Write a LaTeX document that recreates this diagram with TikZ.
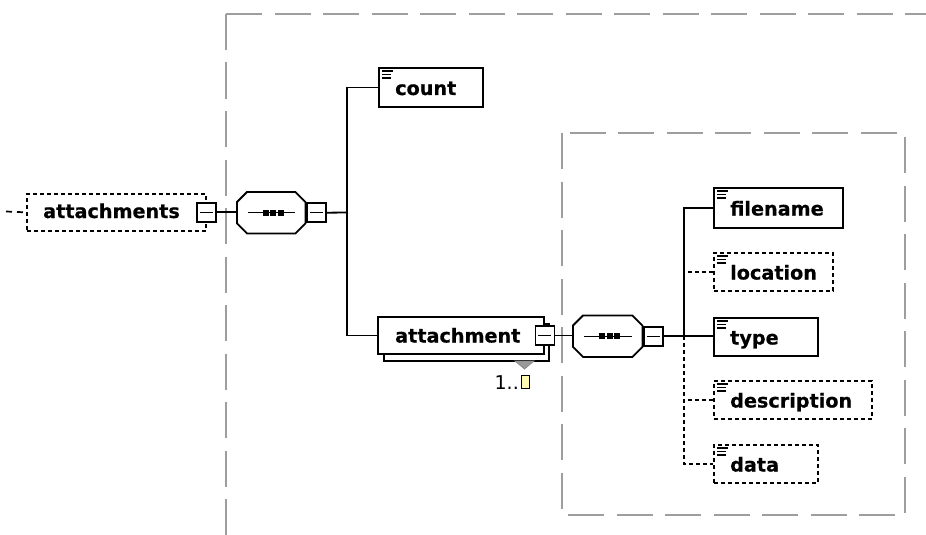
\documentclass[tikz,border=0pt]{standalone}
\usepackage{fontspec}
\setmainfont{DejaVu Sans}
\newfontfamily\heavyfont{DejaVu Sans Bold}[FakeBold=0.5]
\begin{document}
\begin{tikzpicture}[x=1pt,y=-1pt,
  box/.style={draw=black, line width=1.9pt, fill=white, rectangle, inner sep=0pt, anchor=north west},
  optbox/.style={box, line width=1.7pt, dash pattern=on 4pt off 3pt},
  minusbox/.style={draw=black, line width=1.6pt, fill=white, rectangle, inner sep=0pt, minimum size=19pt, anchor=center},
  seqbox/.style={inner sep=0pt, anchor=north west},
  lbl/.style={anchor=base west, inner sep=0pt, font=\fontsize{19.2}{23}\selectfont\heavyfont},
  small/.style={anchor=base west, inner sep=0pt, font=\fontsize{19}{23}\selectfont},
  conn/.style={line width=1.8pt},
  optconn/.style={line width=1.7pt, dash pattern=on 4pt off 3pt},
  gbox/.style={draw=black!38, line width=2.2pt, dash pattern=on 36pt off 12.5pt}
]
\useasboundingbox (0,0) rectangle (926,535);

% group borders
\draw[gbox] (226,14) -- (926,14);
\draw[gbox] (226,14) -- (226,535);
\draw[gbox] (562,133) rectangle (905,515);

\newcommand\xsdicon[1]{%
  \draw[line width=1.3pt] ([xshift=4pt,yshift=-4pt]#1.north west) -- ++(11,0)
    ([xshift=4pt,yshift=-7.5pt]#1.north west) -- ++(9,0)
    ([xshift=4pt,yshift=-11pt]#1.north west) -- ++(9,0);}
\newcommand\minussign{}
\renewcommand\minussign[1]{%
  \draw[line width=1.4pt] ([xshift=-6.5pt]#1.center) -- ([xshift=6.5pt]#1.center);}
\newcommand\seqshape[1]{%
  \draw[conn, fill=white] ([xshift=10pt]#1.north west) -- ([xshift=-10pt]#1.north east)
    -- ([yshift=-10pt]#1.north east) -- ([yshift=10pt]#1.south east)
    -- ([xshift=-10pt]#1.south east) -- ([xshift=10pt]#1.south west)
    -- ([yshift=10pt]#1.south west) -- ([yshift=-10pt]#1.north west) -- cycle;
  \draw[line width=1.4pt] ([xshift=11pt]#1.west) -- ([xshift=-10pt]#1.east);
  \foreach \d in {-5.5,2,9.5}{\fill ([xshift=\d pt]#1.center) +(-2.8,-2.8) rectangle +(2.8,2.8);}}

% attachments (root)
\node[optbox, minimum width=179pt, minimum height=37pt] (attachments) at (26,193) {};
\node[lbl] (attachmentsT) at (43,218) {attachments};
\coordinate (inL) at (6,211.5);
\draw[line width=1.7pt, dash pattern=on 6pt off 5pt] (inL) -- (attachments.west);
\node[minusbox] (attachmentsM) at (attachments.east) {};
\minussign{attachmentsM}

% first sequence
\node[seqbox, minimum width=68pt, minimum height=41pt] (seqA) at (237,192) {};
\draw[conn] (attachmentsM.east) -- (attachmentsM.east -| seqA.west);
\seqshape{seqA}
\node[minusbox, anchor=west] (seqAM) at ([xshift=1pt]seqA.east) {};
\minussign{seqAM}
\coordinate (busA) at (347,212.5);
\draw[conn] (seqAM.east) -- (busA);

% count
\node[box, minimum width=104pt, minimum height=39pt] (count) at (378,67) {};
\xsdicon{count}
\node[lbl] (countT) at (395,95) {count};

% attachment (repeating)
\node[box, minimum width=165pt, minimum height=37pt] (attachmentS) at (383,323) {};
\node[box, minimum width=166pt, minimum height=37pt] (attachment) at (377,316) {};
\node[lbl] (attachmentT) at (395,342.5) {attachment};
\node[minusbox] (attachmentM) at (attachment.east) {};
\minussign{attachmentM}
\draw[conn] (count.west) -| (busA);
\draw[conn] (busA) |- (attachment.west);

% occurrence marker
\draw[draw=black!45, fill=black!40, line width=0.8pt] (515,361) -- (534,361) -- (524.5,369) -- cycle;
\node[small, anchor=base east] (occT) at (519,389) {1..};
\draw[line width=1.2pt, fill=yellow!30] (521.5,375.5) rectangle (529.5,388.5);

% second sequence
\node[seqbox, minimum width=69pt, minimum height=41pt] (seqB) at (573,315.5) {};
\draw[conn] (attachmentM.east) -- (attachmentM.east -| seqB.west);
\seqshape{seqB}
\node[minusbox, anchor=west] (seqBM) at ([xshift=1pt]seqB.east) {};
\minussign{seqBM}
\coordinate (busB) at (684,336);
\draw[conn] (seqBM.east) -- (seqBM.east -| busB);

% children
\node[box, minimum width=129pt, minimum height=40pt] (filename) at (713,187) {};
\node[optbox, minimum width=119pt, minimum height=38pt] (location) at (713,252) {};
\node[box, minimum width=104pt, minimum height=38pt] (type) at (713,317) {};
\node[optbox, minimum width=158pt, minimum height=38pt] (description) at (713,380) {};
\node[optbox, minimum width=104pt, minimum height=38pt] (data) at (713,444) {};
\foreach \n in {filename,location,type,description,data}{\xsdicon{\n}}
\node[lbl] (filenameT) at (730,215.5) {filename};
\node[lbl] (locationT) at (730,279.5) {location};
\node[lbl] (typeT) at (730,344.5) {type};
\node[lbl] (descriptionT) at (730,407.5) {description};
\node[lbl] (dataT) at (730,471.5) {data};

\draw[conn] (filename.west) -| (busB);
\draw[conn] (busB) -- (busB -| type.west);
\draw[optconn] (busB) |- (data.west);
\draw[optconn] (location.west) -- (location.west -| busB);
\draw[optconn] (description.west) -- (description.west -| busB);
\end{tikzpicture}
\end{document}
